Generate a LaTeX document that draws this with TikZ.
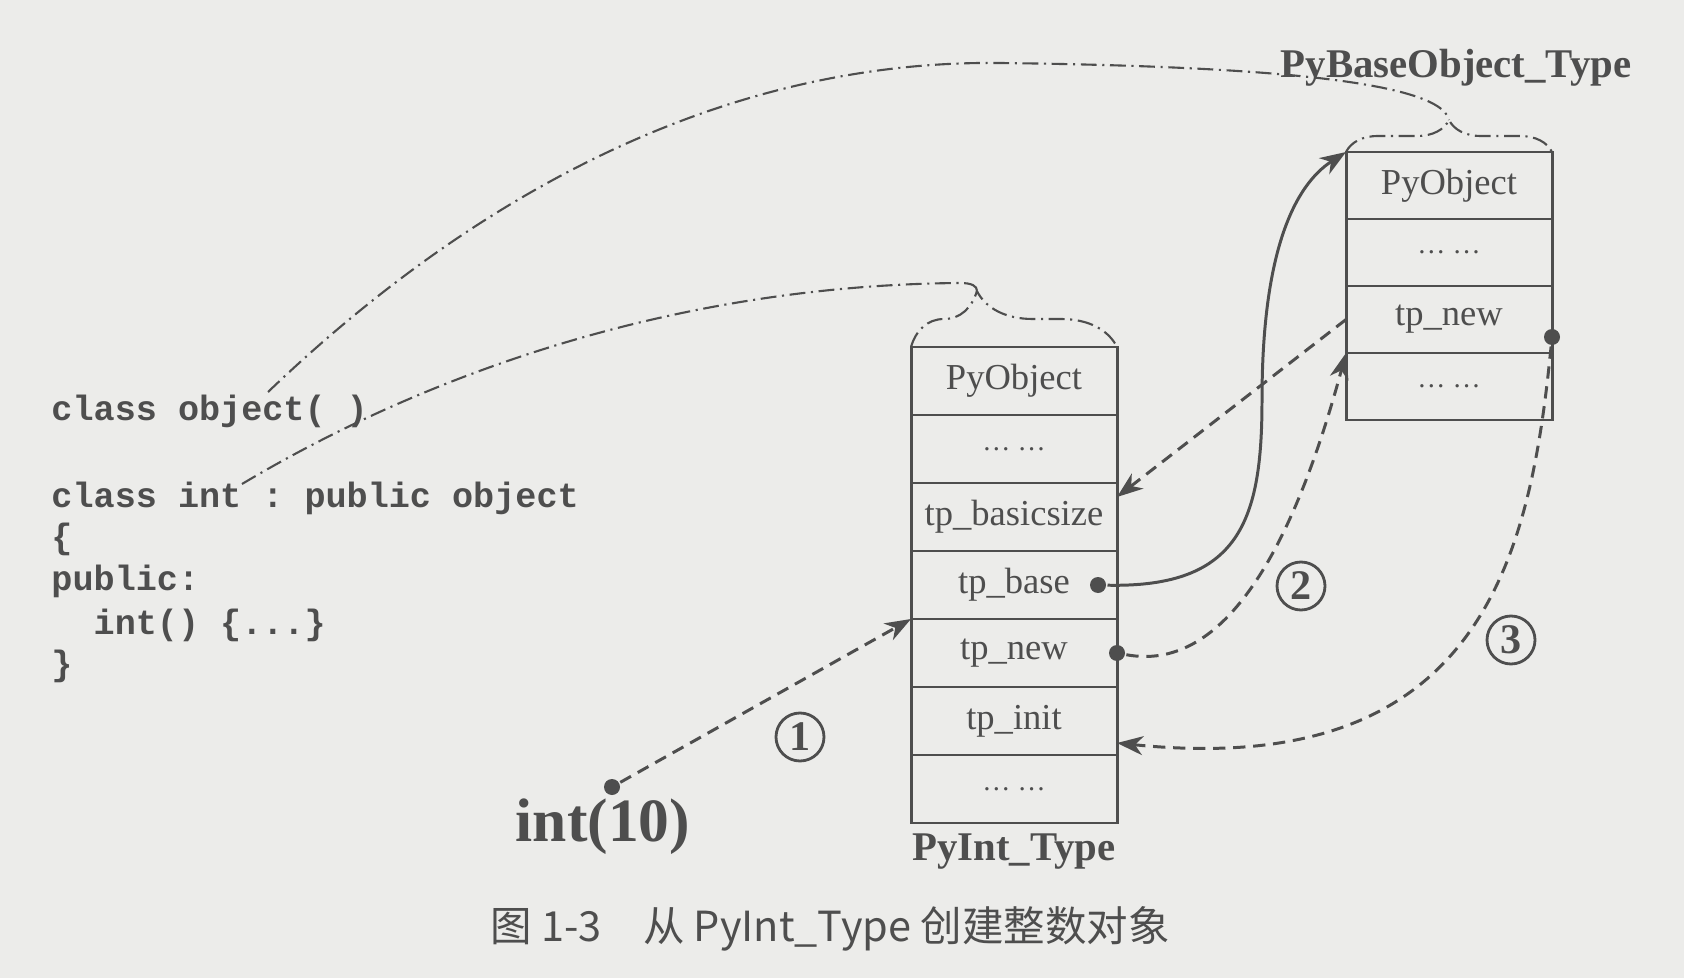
\documentclass[tikz,border=0pt]{standalone}
\usepackage{fontspec}
\setmainfont{Liberation Serif}
\setmonofont{Liberation Mono}
\newfontfamily\cjk{Noto Sans CJK SC}
\usepackage{xcolor}
\definecolor{paper}{RGB}{236,236,234}
\definecolor{ink}{RGB}{78,78,78}
\usetikzlibrary{positioning,arrows.meta,decorations.pathreplacing}

\begin{document}
\begin{tikzpicture}[x=0.1mm, y=-0.1mm, ink, line width=0.85pt,
            cell/.style = {draw, rectangle,
            minimum width=20.6mm, minimum height=6.8mm,
            inner sep=0pt, outer sep=0pt,
            font=\fontsize{10.4}{12}\selectfont},
            basecell/.style = {cell, minimum height=6.7mm},
            gap/.style = {font=\fontsize{8}{8}\selectfont},
            tname/.style = {font=\fontsize{11.6}{13}\selectfont\bfseries},
            code/.style = {anchor=base west, inner sep=0pt,
            font=\fontsize{10}{12}\selectfont\ttfamily\bfseries},
            ptrdot/.style = {circle, fill=ink, inner sep=0pt, minimum size=1.6mm},
            num/.style = {circle, draw, line width=0.8pt, minimum size=4.8mm,
            inner sep=0pt, font=\fontsize{12}{12}\selectfont\bfseries},
            link/.style = {line width=0.6pt,
            dash pattern=on 4.5pt off 1.6pt on 0.6pt off 1.6pt},
            flow/.style = {dash pattern=on 3.5pt off 2.2pt,
            -{Stealth[length=2.6mm,width=1.9mm,inset=0.8mm]}}]
        % Paper
        \fill[paper] (0,0) rectangle (1684,978);
        \useasboundingbox (0,0) rectangle (1684,978);

        % Source code
        \node[code] (objcls) at (50,420) {class object( )};
        \node[code] (intcls) at (50,507) {class int : public object};
        \node[code] (open) at (50,548) {\{};
        \node[code] (pub) at (50,590) {public:};
        \node[code] (ctor) at (50,634) {\ \ int() \{...\}};
        \node[code] (close) at (50,675) {\}};

        % PyInt_Type
        \node[cell] (int1) at (1014,381) {PyObject};
        \node[cell, gap, below=0pt of int1] (int2) {\ldots\ \ldots};
        \node[cell, below=0pt of int2] (int3) {tp\_basicsize};
        \node[cell, below=0pt of int3] (int4) {tp\_base};
        \node[cell, below=0pt of int4] (int5) {tp\_new};
        \node[cell, below=0pt of int5] (int6) {tp\_init};
        \node[cell, gap, below=0pt of int6] (int7) {\ldots\ \ldots};
        \node[tname] (intname) at (1014,852) {PyInt\_Type};

        % PyBaseObject_Type
        \node[basecell] (base1) at (1449,185.5) {PyObject};
        \node[basecell, gap, below=0pt of base1] (base2) {\ldots\ \ldots};
        \node[basecell, below=0pt of base2] (base3) {tp\_new};
        \node[basecell, gap, below=0pt of base3] (base4) {\ldots\ \ldots};
        \node[tname] (basename) at (1456,68) {PyBaseObject\_Type};

        % Braces over the tables
        \draw[link, decorate, decoration={brace, amplitude=5.6mm, aspect=0.32}]
            (int1.north west) -- (int1.north east);
        \draw[link, decorate, decoration={brace, amplitude=3.2mm, aspect=0.5}]
            (base1.north west) -- (base1.north east);
        \coordinate (inttip) at (977,291);
        \coordinate (basetip) at (1449,120);

        % Classes to type objects
        \coordinate (objend) at (268,392);
        \coordinate (intend) at (242,484);
        \draw[link] (objend) .. controls (500,170) and (750,60) .. (1000,63)
            .. controls (1250,66) and (1440,80) .. (basetip);
        \draw[link] (intend) .. controls (450,360) and (700,285) .. (960,283)
            .. controls (972,283) and (977,286) .. (inttip);

        % int(10)
        \node[font=\fontsize{17.5}{20}\selectfont\bfseries] (call) at (603,827) {int(10)};
        \node[ptrdot] (calldot) at (612,787) {};

        % Pointers
        \node[ptrdot] (basedot) at (1098,585) {};
        \node[ptrdot] (newdot) at (int5.east) {};
        \node[ptrdot] (basenewdot) at ([yshift=1.6mm]base3.south east) {};

        \draw[flow] (calldot) -- (int5.north west);
        \draw[-{Stealth[length=2.6mm,width=1.9mm,inset=0.8mm]}] (basedot)
            .. controls (1240,588) and (1262,520) .. (1262,400)
            .. controls (1262,250) and (1295,185) .. (base1.north west);
        \draw[flow] (newdot) .. controls (1220,672) and (1290,560) .. (base4.north west);
        \draw[flow] (base3.west) -- ([yshift=-1.4mm]int3.north east);
        \draw[flow] (basenewdot) .. controls (1530,560) and (1480,780)
            .. ([yshift=1.2mm]int6.south east);

        % Steps
        \node[num] (one) at (800,737) {1};
        \node[num] (two) at (1301,586) {2};
        \node[num] (three) at (1511,640) {3};

        % Caption
        \node[font=\fontsize{11.8}{14}\selectfont\cjk] (caption) at (830,929)
            {图 1-3\hspace{1em}从 PyInt\_Type 创建整数对象};
    \end{tikzpicture}
\end{document}
